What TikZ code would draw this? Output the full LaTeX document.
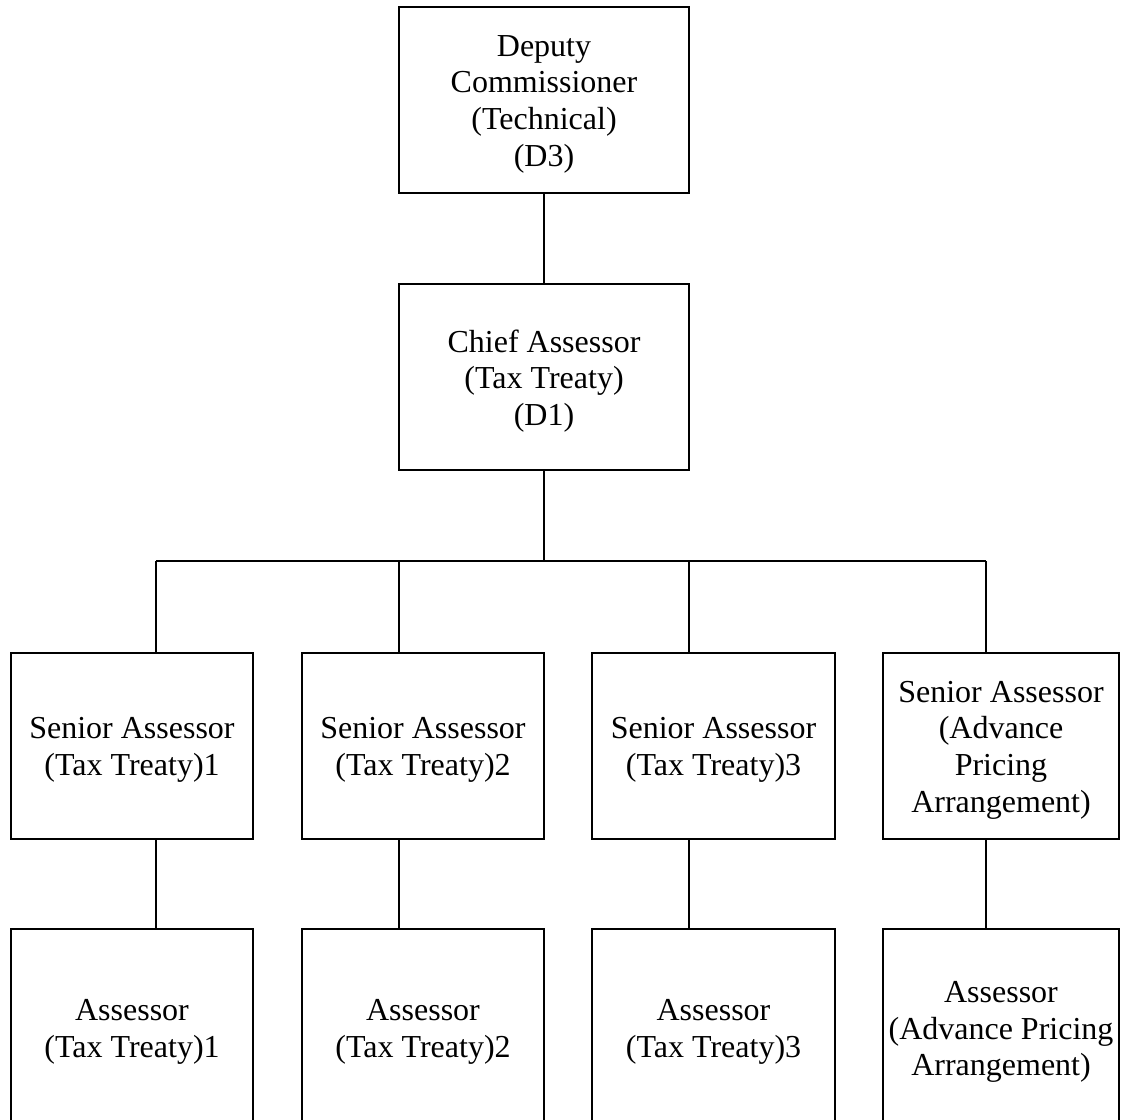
\documentclass[tikz,border=0pt]{standalone}
\usepackage{fontspec}
\setmainfont{Liberation Serif}
\begin{document}
\begin{tikzpicture}[x=1pt,y=-1pt,
  box/.style={draw=black, line width=1.4pt, inner sep=0pt, outer sep=0pt,
    minimum height=186pt},
  lowbox/.style={box, minimum height=198pt},
  txt/.style={align=center, inner sep=0pt, yshift=-4pt,
    font=\fontsize{32}{36.7}\selectfont},
  conn/.style={draw=black, line width=1.4pt}]
\useasboundingbox (0,0) rectangle (1121,1119);
\clip (0,0) rectangle (1121,1119);
\fill[white] (0,0) rectangle (1121,1119);
% top
\node[box, minimum width=290pt, label={[txt]center:Deputy\\Commissioner\\(Technical)\\(D3)}] (d3) at (544,100) {};
\node[box, minimum width=290pt, label={[txt]center:Chief Assessor\\(Tax Treaty)\\(D1)}] (chief) at (544,377) {};
% seniors
\node[box, minimum width=242pt, label={[txt]center:Senior Assessor\\(Tax Treaty)1}] (s1) at (132,746) {};
\node[box, minimum width=242pt, label={[txt]center:Senior Assessor\\(Tax Treaty)2}] (s2) at (423,746) {};
\node[box, minimum width=243pt, label={[txt]center:Senior Assessor\\(Tax Treaty)3}] (s3) at (713.5,746) {};
\node[box, minimum width=236pt, label={[txt]center:Senior Assessor\\(Advance\\Pricing\\Arrangement)}] (s4) at (1001,746) {};
% assessors
\node[lowbox, minimum width=242pt, label={[txt]center:Assessor\\(Tax Treaty)1}] (a1) at (132,1028) {};
\node[lowbox, minimum width=242pt, label={[txt]center:Assessor\\(Tax Treaty)2}] (a2) at (423,1028) {};
\node[lowbox, minimum width=243pt, label={[txt]center:Assessor\\(Tax Treaty)3}] (a3) at (713.5,1028) {};
\node[lowbox, minimum width=236pt, label={[txt]center:Assessor\\(Advance Pricing\\Arrangement)}] (a4) at (1001,1028) {};
% connectors
\coordinate (bus) at (544,561);
\coordinate (b1) at (156,561);
\coordinate (b2) at (399,561);
\coordinate (b3) at (689,561);
\coordinate (b4) at (986,561);
\draw[conn] (d3.south) -- (chief.north);
\draw[conn] (chief.south) -- (bus);
\draw[conn] (b1) -- (b4);
\foreach \i in {1,2,3,4}{
  \draw[conn] (b\i) -- (b\i |- s\i.north);
  \draw[conn] (b\i |- s\i.south) -- (b\i |- a\i.north);
}
\end{tikzpicture}
\end{document}
